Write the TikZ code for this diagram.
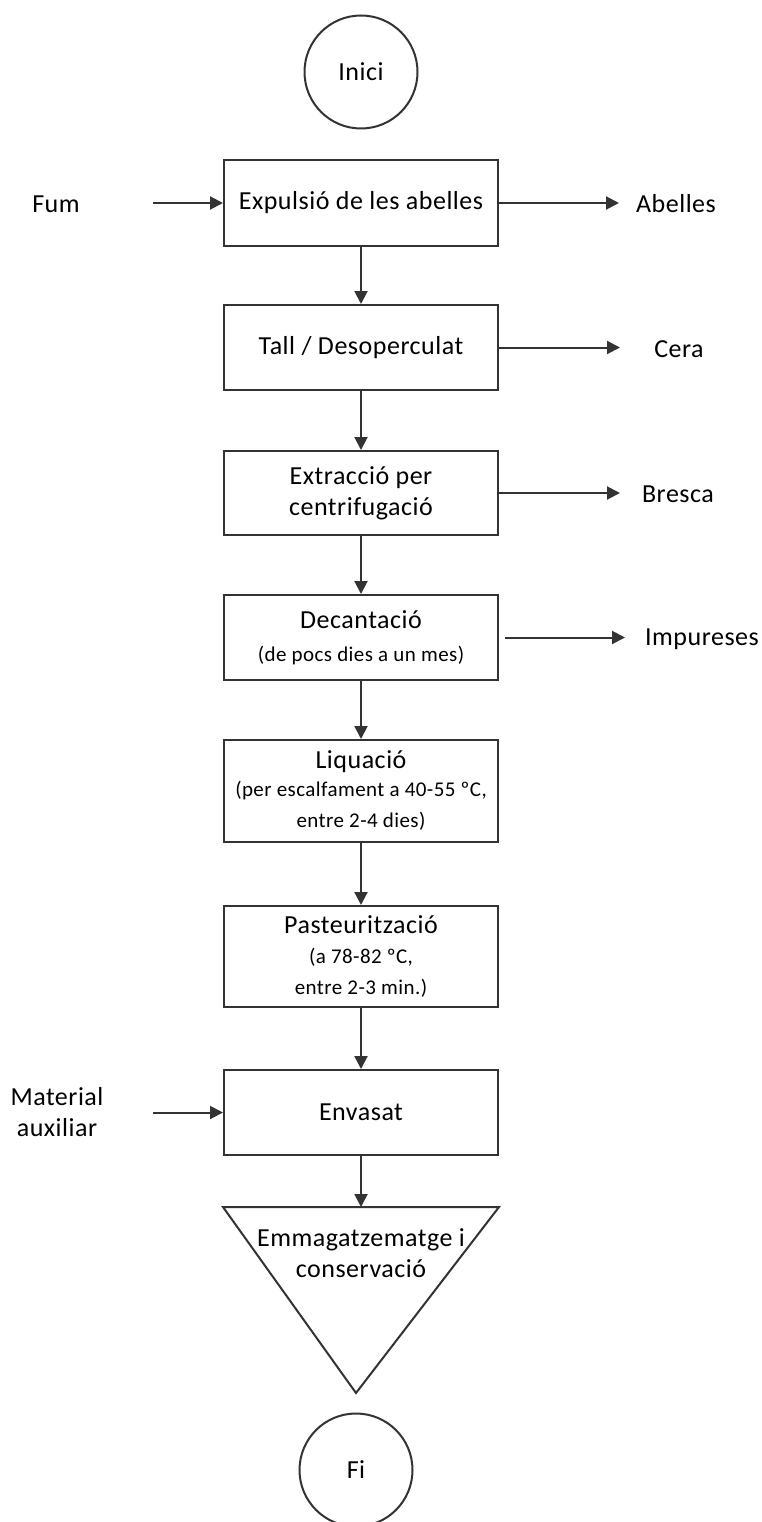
\documentclass[tikz,border=0pt]{standalone}
\usepackage{fontspec}
\setmainfont{Carlito}[LetterSpace=2]
\usetikzlibrary{arrows.meta}
\newcommand\mainsz{\fontsize{26}{31}\selectfont}
\newcommand\subsz{\fontsize{21}{27}\selectfont}
\begin{document}
\begin{tikzpicture}[x=1pt,y=-1pt,
  line/.style={draw=black!80, line width=2pt},
  proc/.style={line, rectangle, minimum width=274pt, inner sep=0pt, align=center, font=\mainsz},
  term/.style={line, circle, minimum size=113pt, inner sep=0pt, font=\mainsz},
  lbl/.style={inner sep=0pt, align=center, font=\mainsz},
  arr/.style={line, -{Triangle[length=13pt,width=13pt]}},
]
\useasboundingbox (0,0) rectangle (762,1522);
\clip (0,0) rectangle (762,1522);

\node[term] (inici) at (361,72) {Inici};

\node[proc, minimum height=86pt] (b1) at (361,203) {Expulsió de les abelles};
\node[proc, minimum height=85pt] (b2) at (361,347.5) {Tall / Desoperculat};
\node[proc, minimum height=84pt] (b3) at (361,493) {Extracció per\\centrifugació};
\node[proc, minimum height=85pt] (b4) at (361,637.5) {Decantació\\[2pt]{\subsz (de pocs dies a un mes)}};
\node[proc, minimum height=102pt] (b5) at (361,791) {Liquació\\[-3pt]{\subsz (per escalfament a 40-55 ºC,}\\{\subsz entre 2-4 dies)}};
\node[proc, minimum height=101pt] (b6) at (361,956.5) {Pasteurització\\[-1pt]{\subsz (a 78-82 ºC,}\\{\subsz entre 2-3 min.)}};
\node[proc, minimum height=85pt] (b7) at (361,1112.5) {Envasat};

\coordinate (tl) at (223,1207);
\coordinate (tr) at (499,1207);
\coordinate (tb) at (356,1393);
\coordinate (tt) at (361,1207);
\draw[line, line join=miter] (tl) -- (tr) -- (tb) -- cycle;
\node[lbl] (store) at (361,1253) {Emmagatzematge i\\conservació};

\node[term] (fi) at (356,1470) {Fi};

\node[lbl] (fum) at (56,204) {Fum};
\node[lbl] (abelles) at (676,204) {Abelles};
\node[lbl] (cera) at (679,349) {Cera};
\node[lbl] (bresca) at (678,494) {Bresca};
\node[lbl] (impur) at (702,639) {Impureses};
\node[lbl] (mat) at (57,1112) {Material\\auxiliar};

\coordinate (fumS) at (153,203);
\coordinate (abE) at (619,203);
\coordinate (ceE) at (620,347.5);
\coordinate (brE) at (620,493);
\coordinate (imS) at (505,637.5);
\coordinate (imE) at (625,637.5);
\coordinate (matS) at (153,1112.5);

\draw[arr] (fumS) -- (b1.west);
\draw[arr] (b1.east) -- (abE);
\draw[arr] (b2.east) -- (ceE);
\draw[arr] (b3.east) -- (brE);
\draw[arr] (imS) -- (imE);
\draw[arr] (matS) -- (b7.west);

\draw[arr] (b1.south) -- (b2.north);
\draw[arr] (b2.south) -- (b3.north);
\draw[arr] (b3.south) -- (b4.north);
\draw[arr] (b4.south) -- (b5.north);
\draw[arr] (b5.south) -- (b6.north);
\draw[arr] (b6.south) -- (b7.north);
\draw[arr] (b7.south) -- (tt);
\end{tikzpicture}
\end{document}
